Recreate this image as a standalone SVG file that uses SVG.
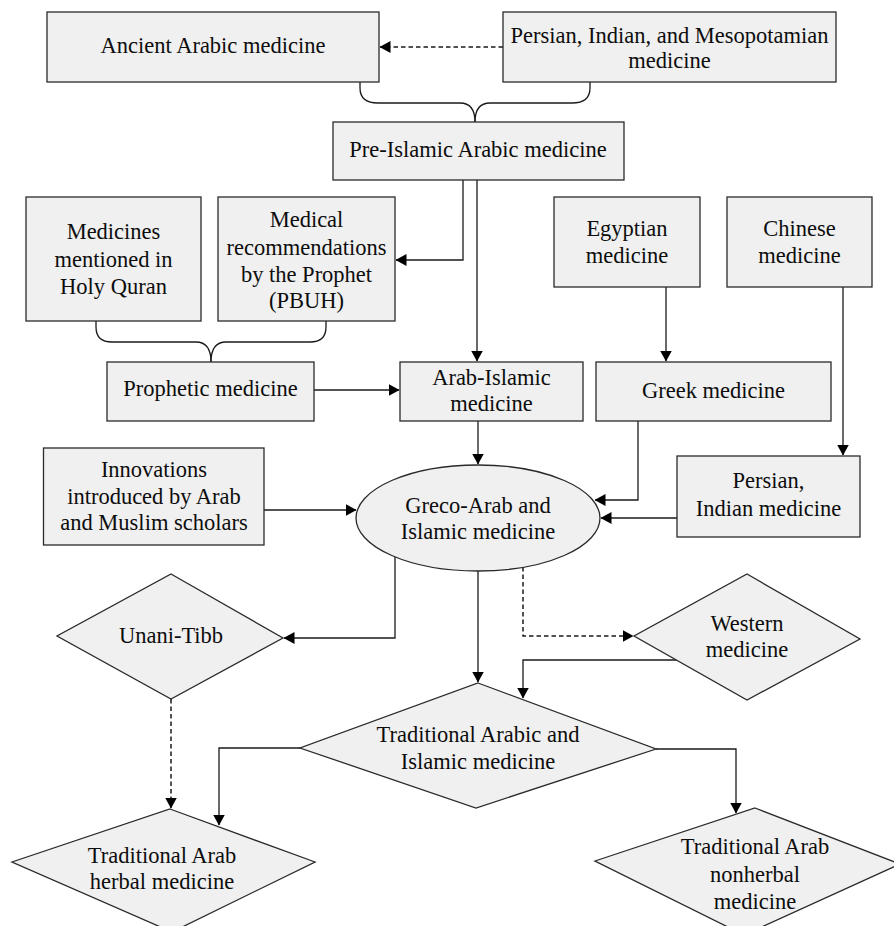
<svg xmlns="http://www.w3.org/2000/svg" width="894" height="926" viewBox="0 0 894 926">
  <style>
    .node { fill: #f0f0f0; stroke: #2a2a2a; stroke-width: 1.3; }
    .lbl { font-family: "Liberation Serif", "Times New Roman", serif; font-size: 22.5px; fill: #0d0d0d; text-anchor: middle; }
    .edge { fill: none; stroke: #1a1a1a; stroke-width: 1.3; }
    .dash { stroke-dasharray: 4.5 3; stroke-width: 1.5; }
  </style>
  <defs>
    <marker id="arrow" markerUnits="userSpaceOnUse" markerWidth="11" markerHeight="12" viewBox="0 0 11 12" refX="10.5" refY="6" orient="auto">
      <path d="M0,0 L11,6 L0,12 Z" fill="#000"/>
    </marker>
  </defs>

  <!-- connectors -->
  <g id="connectors">
    <path class="edge dash" d="M503,47 H380" marker-end="url(#arrow)"/>
    <!-- brace joining the two ancient sources -->
    <path class="edge" d="M360,82 V88 Q360,103 378,103 H460 Q475,103 475,122"/>
    <path class="edge" d="M590,82 V88 Q590,103 572,103 H490 Q475,103 475,122"/>
    <path class="edge" d="M463,180 V260 H396" marker-end="url(#arrow)"/>
    <path class="edge" d="M477,180 V361" marker-end="url(#arrow)"/>
    <!-- brace joining the prophetic sources -->
    <path class="edge" d="M96,321 V327 Q96,342 112,342 H196 Q211,342 211,362"/>
    <path class="edge" d="M326,321 V327 Q326,342 310,342 H226 Q211,342 211,362"/>
    <path class="edge" d="M314,390 H399" marker-end="url(#arrow)"/>
    <path class="edge" d="M666,287 V361" marker-end="url(#arrow)"/>
    <path class="edge" d="M843,287 V455" marker-end="url(#arrow)"/>
    <path class="edge" d="M478,421 V464" marker-end="url(#arrow)"/>
    <path class="edge" d="M638,421 V500 H595" marker-end="url(#arrow)"/>
    <path class="edge" d="M677,518 H601" marker-end="url(#arrow)"/>
    <path class="edge" d="M264,510 H356" marker-end="url(#arrow)"/>
    <path class="edge" d="M395,557 V638 H284" marker-end="url(#arrow)"/>
    <path class="edge" d="M478,571 V682" marker-end="url(#arrow)"/>
    <path class="edge dash" d="M523,567 V636 H633" marker-end="url(#arrow)"/>
    <path class="edge" d="M677,660 H523 V698" marker-end="url(#arrow)"/>
    <path class="edge" d="M300,748 H219 V825" marker-end="url(#arrow)"/>
    <path class="edge dash" d="M171,699 V808" marker-end="url(#arrow)"/>
    <path class="edge" d="M656,749 H736 V813" marker-end="url(#arrow)"/>
  </g>

  <g id="ancient">
    <rect class="node" x="47" y="12" width="332" height="70"/>
    <text class="lbl" x="213" y="53">Ancient Arabic medicine</text>
  </g>
  <g id="persian-mesopotamian">
    <rect class="node" x="503" y="12" width="333" height="70"/>
    <text class="lbl" x="669.5" y="43">Persian, Indian, and Mesopotamian</text>
    <text class="lbl" x="669.5" y="68">medicine</text>
  </g>
  <g id="pre-islamic">
    <rect class="node" x="333" y="122" width="291" height="58"/>
    <text class="lbl" x="478" y="157">Pre-Islamic Arabic medicine</text>
  </g>
  <g id="quran">
    <rect class="node" x="26" y="197" width="175" height="124"/>
    <text class="lbl" x="113.5" y="239">Medicines</text>
    <text class="lbl" x="113.5" y="267">mentioned in</text>
    <text class="lbl" x="113.5" y="294">Holy Quran</text>
  </g>
  <g id="prophet-recommendations">
    <rect class="node" x="218" y="197" width="177" height="124"/>
    <text class="lbl" x="306.5" y="227">Medical</text>
    <text class="lbl" x="306.5" y="255">recommendations</text>
    <text class="lbl" x="306.5" y="282">by the Prophet</text>
    <text class="lbl" x="306.5" y="308">(PBUH)</text>
  </g>
  <g id="egyptian">
    <rect class="node" x="554" y="197" width="146" height="90"/>
    <text class="lbl" x="627" y="236">Egyptian</text>
    <text class="lbl" x="627" y="263">medicine</text>
  </g>
  <g id="chinese">
    <rect class="node" x="727" y="197" width="145" height="90"/>
    <text class="lbl" x="799.5" y="236">Chinese</text>
    <text class="lbl" x="799.5" y="263">medicine</text>
  </g>
  <g id="prophetic">
    <rect class="node" x="107" y="362" width="207" height="59"/>
    <text class="lbl" x="210.5" y="396">Prophetic medicine</text>
  </g>
  <g id="arab-islamic">
    <rect class="node" x="400" y="362" width="183" height="59"/>
    <text class="lbl" x="491.5" y="385">Arab-Islamic</text>
    <text class="lbl" x="491.5" y="411">medicine</text>
  </g>
  <g id="greek">
    <rect class="node" x="596" y="362" width="235" height="59"/>
    <text class="lbl" x="713.5" y="398">Greek medicine</text>
  </g>
  <g id="innovations">
    <rect class="node" x="43.5" y="448" width="220.5" height="97"/>
    <text class="lbl" x="154" y="477">Innovations</text>
    <text class="lbl" x="154" y="504">introduced by Arab</text>
    <text class="lbl" x="154" y="530">and Muslim scholars</text>
  </g>
  <g id="greco-arab">
    <ellipse class="node" cx="478" cy="518" rx="122" ry="53"/>
    <text class="lbl" x="478" y="513">Greco-Arab and</text>
    <text class="lbl" x="478" y="539">Islamic medicine</text>
  </g>
  <g id="persian-indian">
    <rect class="node" x="677" y="456" width="183" height="81"/>
    <text class="lbl" x="768.5" y="488">Persian,</text>
    <text class="lbl" x="768.5" y="516">Indian medicine</text>
  </g>
  <g id="unani-tibb">
    <polygon class="node" points="171,574 283,638 171,699 57,636"/>
    <text class="lbl" x="171" y="643">Unani-Tibb</text>
  </g>
  <g id="western">
    <polygon class="node" points="747,574 860,639 747,700 634,636"/>
    <text class="lbl" x="747" y="631">Western</text>
    <text class="lbl" x="747" y="657">medicine</text>
  </g>
  <g id="traditional">
    <polygon class="node" points="478,683 656,749 476,808 300,748"/>
    <text class="lbl" x="478" y="742">Traditional Arabic and</text>
    <text class="lbl" x="478" y="769">Islamic medicine</text>
  </g>
  <g id="herbal">
    <polygon class="node" points="170,809 315,862 172,932 12,862"/>
    <text class="lbl" x="162" y="863">Traditional Arab</text>
    <text class="lbl" x="162" y="889">herbal medicine</text>
  </g>
  <g id="nonherbal">
    <polygon class="node" points="755,808 900,864 744,935 595,861"/>
    <text class="lbl" x="755" y="854">Traditional Arab</text>
    <text class="lbl" x="755" y="882">nonherbal</text>
    <text class="lbl" x="755" y="909">medicine</text>
  </g>
</svg>
